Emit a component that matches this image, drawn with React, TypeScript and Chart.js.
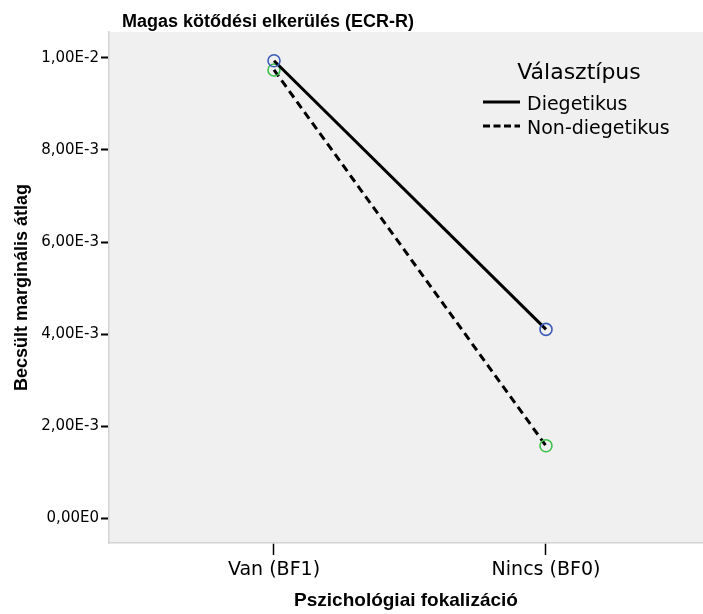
import { useEffect, useRef } from "react";
import { Chart, registerables } from "chart.js";

Chart.register(...registerables);

const categories = ["Van (BF1)", "Nincs (BF0)"];
const seriesNames = ["Diegetikus", "Non-diegetikus"];
const diegetikus = [0.00994, 0.0041];
const nonDiegetikus = [0.00974, 0.00157];
const yTickValues = [0, 0.002, 0.004, 0.006, 0.008, 0.01];
const yTickLabels = ["0,00E0", "2,00E-3", "4,00E-3", "6,00E-3", "8,00E-3", "1,00E-2"];
const chartTitle = "Magas kötődési elkerülés (ECR-R)";
const legendTitle = "Választípus";
const xTitle = "Pszichológiai fokalizáció";
const yTitle = "Becsült marginális átlag";

const REG = "'DejaVu Sans', sans-serif";
const BOLD = "'Liberation Sans', Arial, sans-serif";

const bgPlugin = {
  id: "bgPlugin",
  beforeDraw(chart: any) {
    const { ctx, chartArea } = chart;
    ctx.save();
    ctx.fillStyle = "#ffffff";
    ctx.fillRect(0, 0, chart.width, chart.height);
    ctx.fillStyle = "#f0f0f0";
    ctx.fillRect(chartArea.left, chartArea.top, chartArea.right - chartArea.left, chartArea.bottom - chartArea.top);
    ctx.restore();
  },
};

const overlayPlugin = {
  id: "overlayPlugin",
  afterDraw(chart: any) {
    const { ctx } = chart;
    ctx.save();
    ctx.fillStyle = "#000";
    ctx.textBaseline = "alphabetic";
    ctx.textAlign = "left";
    ctx.font = `bold 18px ${BOLD}`;
    ctx.fillText(chartTitle, 122, 27);
    ctx.font = `22px ${REG}`;
    ctx.textAlign = "center";
    ctx.fillText(legendTitle, 579, 79);
    const rows = [
      { y: 102, base: 110 },
      { y: 126, base: 134 },
    ];
    chart.data.datasets.forEach((ds: any, i: number) => {
      const r = rows[i];
      ctx.beginPath();
      ctx.strokeStyle = ds.borderColor;
      ctx.lineWidth = 3;
      ctx.setLineDash(ds.borderDash && ds.borderDash.length ? [7, 3.5] : []);
      ctx.moveTo(483, r.y);
      ctx.lineTo(520, r.y);
      ctx.stroke();
      ctx.setLineDash([]);
      ctx.font = `19px ${REG}`;
      ctx.textAlign = "left";
      ctx.fillText(ds.label, 527, r.base);
    });
    ctx.restore();
  },
};

export default function App() {
  const ref = useRef<HTMLCanvasElement | null>(null);
  useEffect(() => {
    document.body.style.margin = "0";
    if (!ref.current) return;
    const chart = new Chart(ref.current, {
      type: "line",
      data: {
        datasets: [
          {
            label: seriesNames[0],
            data: diegetikus.map((y, i) => ({ x: i, y })),
            borderColor: "#000000",
            borderWidth: 3,
            pointRadius: 6,
            pointBorderColor: "#3d5cb8",
            pointBackgroundColor: "rgba(0,0,0,0)",
            pointBorderWidth: 1.6,
            fill: false,
            tension: 0,
          },
          {
            label: seriesNames[1],
            data: nonDiegetikus.map((y, i) => ({ x: i, y })),
            borderColor: "#000000",
            borderWidth: 3,
            borderDash: [8, 5],
            pointRadius: 6,
            pointBorderColor: "#3cc24a",
            pointBackgroundColor: "rgba(0,0,0,0)",
            pointBorderWidth: 1.6,
            fill: false,
            tension: 0,
          },
        ],
      },
      options: {
        animation: false,
        responsive: false,
        layout: { autoPadding: false, padding: { top: 32, left: 0, right: 0, bottom: 0 } },
        plugins: {
          legend: { display: false },
          title: { display: false },
          tooltip: { enabled: false },
        },
        scales: {
          x: {
            type: "linear",
            min: -0.6066,
            max: 1.5772,
            afterBuildTicks: (s: any) => {
              s.ticks = categories.map((_, i) => ({ value: i }));
            },
            ticks: {
              callback: (v: any) => categories[v as number] ?? "",
              font: { family: REG, size: 19 },
              color: "#000",
              padding: 4,
              maxRotation: 0,
              autoSkip: false,
            },
            grid: { drawOnChartArea: false, drawTicks: true, tickLength: 12, tickColor: "#000", tickWidth: 1.5 },
            border: { display: true, color: "#d4d4d4", width: 1.5 },
            title: {
              display: true,
              text: xTitle,
              font: { family: BOLD, size: 19, weight: "bold" },
              color: "#000",
              padding: { top: 0, bottom: 2 },
            },
            afterFit: (s: any) => {
              s.height = 71;
              s.paddingLeft = 0;
              s.paddingRight = 0;
            },
          },
          y: {
            type: "linear",
            min: -0.000543,
            max: 0.010565,
            afterBuildTicks: (s: any) => {
              s.ticks = yTickValues.map((v) => ({ value: v }));
            },
            ticks: {
              callback: (_v: any, i: number) => yTickLabels[i] ?? "",
              font: { family: REG, size: 15 },
              color: "#000",
              padding: 2,
              autoSkip: false,
            },
            grid: { drawOnChartArea: false, drawTicks: true, tickLength: 8, tickColor: "#000", tickWidth: 2 },
            border: { display: true, color: "#d4d4d4", width: 1.5 },
            title: {
              display: true,
              text: yTitle,
              font: { family: BOLD, size: 18, weight: "bold" },
              color: "#000",
              padding: { top: 11, bottom: 0 },
            },
            afterFit: (s: any) => {
              s.width = 109;
              s.paddingTop = 0;
              s.paddingBottom = 0;
            },
          },
        },
      },
      plugins: [bgPlugin, overlayPlugin],
    } as any);
    return () => chart.destroy();
  }, []);
  return <canvas ref={ref} width={703} height={614} style={{ display: "block", width: 703, height: 614 }} />;
}
